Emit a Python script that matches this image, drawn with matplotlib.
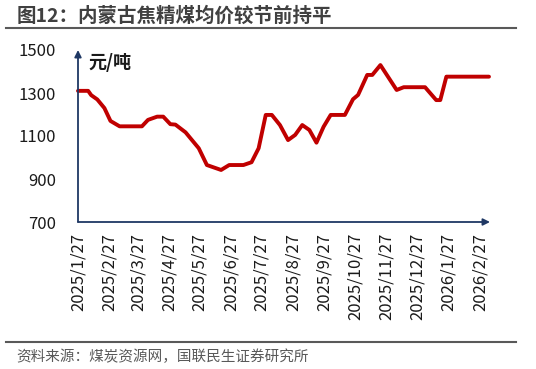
import matplotlib.pyplot as plt
import pandas as pd
from matplotlib.lines import Line2D

plt.rcParams['font.family'] = ['Noto Sans CJK SC', 'DejaVu Sans']

TITLE = "图12：内蒙古焦精煤均价较节前持平"
SOURCE = "资料来源：煤炭资源网，国联民生证券研究所"
UNIT = "元/吨"

dates = [
    "2025-01-27", "2025-02-06", "2025-02-09", "2025-02-15", "2025-02-22",
    "2025-02-28", "2025-03-09", "2025-03-31", "2025-04-06", "2025-04-15",
    "2025-04-21", "2025-04-28", "2025-05-03", "2025-05-13", "2025-05-26",
    "2025-06-03", "2025-06-17", "2025-06-25", "2025-07-09", "2025-07-17",
    "2025-07-24", "2025-07-31", "2025-08-06", "2025-08-14", "2025-08-22",
    "2025-08-29", "2025-09-05", "2025-09-12", "2025-09-19", "2025-09-26",
    "2025-10-03", "2025-10-17", "2025-10-25", "2025-10-30", "2025-11-08",
    "2025-11-13", "2025-11-21", "2025-12-07", "2025-12-14", "2026-01-04",
    "2026-01-15", "2026-01-19", "2026-01-25", "2026-03-08",
]
prices = [
    1310, 1310, 1290, 1270, 1230,
    1170, 1145, 1145, 1175, 1190,
    1190, 1155, 1153, 1117, 1043,
    965, 942, 965, 965, 978,
    1043, 1198, 1198, 1151, 1081,
    1105, 1151, 1128, 1069, 1143,
    1198, 1198, 1271, 1291, 1384,
    1384, 1430, 1314, 1327, 1327,
    1267, 1267, 1376, 1376,
]
tick_labels = [
    "2025/1/27", "2025/2/27", "2025/3/27", "2025/4/27", "2025/5/27",
    "2025/6/27", "2025/7/27", "2025/8/27", "2025/9/27", "2025/10/27",
    "2025/11/27", "2025/12/27", "2026/1/27", "2026/2/27",
]
yticks = [700, 900, 1100, 1300, 1500]

x = pd.to_datetime(dates)
tick_pos = pd.to_datetime(tick_labels, format="%Y/%m/%d")

fig = plt.figure(figsize=(5.36, 3.69), dpi=100)
ax = fig.add_axes([78 / 536, 1 - 222 / 369, 412 / 536, 172 / 369])

ax.plot(x, prices, color="#C00000", lw=2.8, solid_joinstyle="round",
        solid_capstyle="round", clip_on=False)

ax.set_yticks(yticks)
ax.set_xticks(tick_pos)
ax.set_xticklabels(tick_labels, rotation=90)
ax.set_xlim(pd.Timestamp("2025-01-27"), pd.Timestamp("2026-03-09"))
ax.set_ylim(700, 1500)
ax.tick_params(axis="both", length=0, labelsize=12, colors="#1a1a1a")
ax.tick_params(axis="y", pad=16)
ax.tick_params(axis="x", pad=8)

for s in ax.spines.values():
    s.set_visible(False)

axis_color = "#1F3864"
ax.annotate("", xy=(0, 1), xytext=(0, 0), xycoords="axes fraction",
            arrowprops=dict(arrowstyle="-|>", color=axis_color, lw=1.3,
                            mutation_scale=10, shrinkA=0, shrinkB=0))
ax.annotate("", xy=(1, 0), xytext=(0, 0), xycoords="axes fraction",
            arrowprops=dict(arrowstyle="-|>", color=axis_color, lw=1.3,
                            mutation_scale=10, shrinkA=0, shrinkB=0))

ax.text(88 / 536, 1 - 62 / 369, UNIT, transform=fig.transFigure, fontsize=13,
        fontweight="bold", color="#1a1a1a", va="center", ha="left")

fig.text(17 / 536, 1 - 16 / 369, TITLE, fontsize=14, fontweight="bold",
         color="#404040", va="center", ha="left")
fig.add_artist(Line2D([6 / 536, 516 / 536], [1 - 28 / 369, 1 - 28 / 369],
                      color="#595959", lw=1.5))
fig.add_artist(Line2D([6 / 536, 516 / 536], [1 - 342 / 369, 1 - 342 / 369],
                      color="#595959", lw=1.5))
fig.text(16 / 536, 1 - 357 / 369, SOURCE, fontsize=10.5, color="#595959",
         va="center", ha="left")

fig.savefig("out.png", dpi=100)
plt.close(fig)
